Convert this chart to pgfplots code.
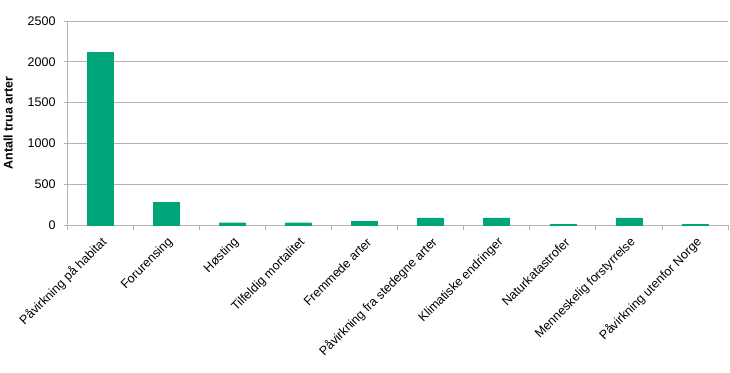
\documentclass[border=0pt]{standalone}
\usepackage{fontspec}
\setmainfont{Liberation Sans}
\usepackage{pgfplots}
\pgfplotsset{compat=1.18}
\definecolor{bargreen}{RGB}{0,166,122}
\definecolor{gridgray}{RGB}{180,180,180}
\begin{document}
\begin{tikzpicture}
\path[use as bounding box] (-67pt,-147pt) rectangle (663pt,225pt);
\begin{axis}[
  at={(0pt,0pt)}, anchor=south west,
  scale only axis,
  width=661pt, height=204pt,
  xmin=-0.5, xmax=9.5,
  ymin=0, ymax=2500,
  ytick={0,500,1000,1500,2000,2500},
  xtick={0,1,2,3,4,5,6,7,8,9},
  xticklabels={Påvirkning på habitat,Forurensing,Høsting,Tilfeldig mortalitet,Fremmede arter,Påvirkning fra stedegne arter,Klimatiske endringer,Naturkatastrofer,Menneskelig forstyrrelse,Påvirkning utenfor Norge},
  minor xtick={-0.5,0.5,...,9.5},
  major x tick style={draw=none},
  minor x tick style={draw=gridgray, line width=0.8pt},
  minor tick length=5pt,
  xtick pos=bottom,
  ytick pos=left,
  tick align=outside,
  major tick length=3pt,
  ytick style={draw=gridgray, line width=0.8pt},
  ymajorgrids,
  grid style={draw=gridgray, line width=0.8pt},
  axis x line*=bottom,
  axis y line*=left,
  axis line style={draw=gridgray, line width=0.8pt},
  every outer x axis line/.append style={-},
  every outer y axis line/.append style={-},
  /pgf/number format/assume math mode=true,
  /pgf/number format/set thousands separator={},
  tick label style={font=\fontsize{12.5}{14}\selectfont, text=black},
  yticklabel style={xshift=-5pt},
  xticklabel style={rotate=45, anchor=east, yshift=-12pt, xshift=-2pt},
  ylabel={\textbf{Antall trua arter}},
  ylabel style={font=\fontsize{12.5}{14}\selectfont},
  ylabel shift=8pt,
  ybar, bar width=26pt,
]
\addplot[fill=bargreen, draw=bargreen] coordinates {
(0,2115) (1,280) (2,28) (3,28) (4,49) (5,86) (6,86) (7,12) (8,86) (9,12)
};
\end{axis}
\end{tikzpicture}
\end{document}
